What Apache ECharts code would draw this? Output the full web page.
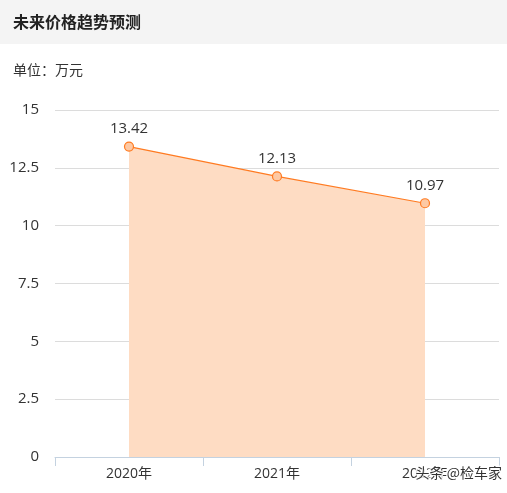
<!DOCTYPE html>
<html><head><meta charset="utf-8">
<script src="https://cdn.jsdelivr.net/npm/echarts@6/dist/echarts.min.js"></script>
<style>html,body{margin:0;padding:0;background:#fff}#c{width:507px;height:493px}</style>
</head><body><div id="c"></div>
<script>
var categories = ['2020年', '2021年', '2022年'];
var prices = [13.42, 12.13, 10.97];
var yTicks = [0, 2.5, 5, 7.5, 10, 12.5, 15];
var title = '未来价格趋势预测';
var unitText = '单位：万元';
var watermark = '头条 @检车家';

var chart = echarts.init(document.getElementById('c'), null, {renderer: 'canvas'});
chart.setOption({
  animation: false,
  backgroundColor: '#fff',
  graphic: [
    {type: 'rect', left: 0, top: 0, shape: {width: 507, height: 44}, style: {fill: '#f4f4f4'}, z: -1},
    {type: 'text', left: 13, top: 14, style: {text: title, fill: '#222', font: 'bold 16px "Noto Sans CJK SC", sans-serif'}},
    {type: 'text', left: 13, top: 63, style: {text: unitText, fill: '#333', font: '14px "Noto Sans CJK SC", sans-serif'}},
    {type: 'text', left: 414, top: 464, z: 100, style: {text: watermark, fill: '#333', font: '14px "Noto Sans CJK SC", sans-serif', stroke: 'rgba(255,255,255,0.85)', lineWidth: 3}}
  ],
  grid: {left: 55, right: 8, top: 110, bottom: 36, containLabel: false},
  xAxis: {
    type: 'category', data: categories, boundaryGap: true,
    axisLine: {lineStyle: {color: '#c4d2e0'}},
    axisTick: {show: true, length: 9, lineStyle: {color: '#c4d2e0'}},
    axisLabel: {color: '#333', fontSize: 14, margin: 10, fontFamily: '"Open Sans", "Noto Sans CJK SC", sans-serif'}
  },
  yAxis: {
    type: 'value', min: yTicks[0], max: yTicks[yTicks.length - 1], interval: 2.5,
    axisLine: {show: false}, axisTick: {show: false},
    axisLabel: {color: '#333', fontSize: 15, margin: 16, fontFamily: '"Open Sans", sans-serif'},
    splitLine: {lineStyle: {color: '#dcdcdc'}}
  },
  series: [{
    type: 'line', data: prices,
    symbol: 'circle', symbolSize: 9,
    lineStyle: {color: '#ff7b22', width: 1.2},
    itemStyle: {color: '#fdc9a4', borderColor: '#ff7b22', borderWidth: 1.2},
    areaStyle: {color: '#fedcc3', opacity: 1},
    label: {show: true, position: 'top', distance: 5, color: '#333', fontSize: 15, fontFamily: '"Open Sans", sans-serif'}
  }]
});
</script></body></html>
